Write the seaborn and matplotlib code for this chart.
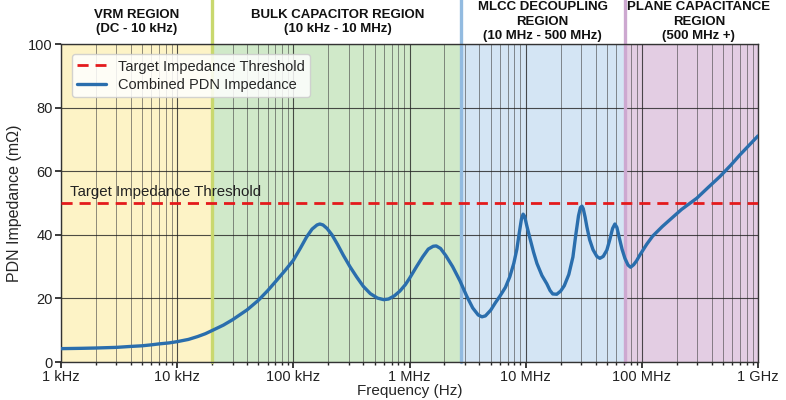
import numpy as np
import pandas as pd
import seaborn as sns
import matplotlib.pyplot as plt
from matplotlib.ticker import FixedLocator, LogLocator, NullFormatter

sns.set_theme(style="ticks")
plt.rcParams['font.family'] = ['Liberation Sans', 'DejaVu Sans']

# impedance curve (Hz, mOhm)
freq_hz = [1e3, 1.5e3, 2e3, 3e3, 4e3, 5e3, 6e3, 7e3, 8.5e3, 1e4, 1.25e4, 1.5e4,
           1.75e4, 2e4, 2.5e4, 3e4, 4e4, 5e4, 6e4, 7e4, 8.5e4,
           1e5, 1.15e5, 1.3e5, 1.45e5, 1.6e5, 1.69e5, 1.8e5, 1.95e5, 2.15e5,
           2.4e5, 2.7e5, 3.07e5, 3.5e5, 4e5, 4.6e5, 5.3e5, 6e5, 6.6e5, 7.4e5,
           8.26e5, 9.2e5, 1.0e6, 1.15e6, 1.3e6, 1.45e6, 1.6e6, 1.7e6, 1.85e6,
           2.05e6, 2.35e6, 2.72e6, 3.1e6, 3.5e6, 3.9e6, 4.2e6, 4.5e6, 5.0e6,
           5.5e6, 6.0e6, 6.7e6, 7.3e6, 7.9e6, 8.4e6, 8.8e6, 9.2e6, 9.5e6,
           9.8e6, 10.2e6, 10.9e6, 11.7e6, 12.5e6, 13.8e6, 15.2e6, 16.2e6,
           17.1e6, 18.5e6, 20e6, 21.5e6, 23.5e6, 25.5e6, 27e6, 28.5e6, 29.6e6,
           30.5e6, 31.3e6, 32.5e6, 33.6e6, 35.5e6, 38e6, 41e6, 43.5e6, 46.5e6,
           50e6, 53e6, 56e6, 58.6e6, 61e6, 64e6, 67.5e6, 71.5e6, 76e6, 80e6,
           85e6, 90e6, 96e6, 110e6, 124e6, 150e6, 174e6, 220e6, 297e6, 370e6,
           469e6, 580e6, 697e6, 840e6, 1e9]
z_mohm = [4.2, 4.3, 4.4, 4.6, 4.9, 5.1, 5.4, 5.7, 6.0, 6.4, 7.1, 8.0,
          8.9, 9.9, 11.6, 13.3, 16.4, 19.4, 22.4, 25.2, 28.8,
          32.0, 35.8, 39.3, 41.8, 43.1, 43.4, 43.1, 42.0, 40.0,
          37.0, 33.5, 30.0, 26.8, 23.8, 21.5, 20.1, 19.6, 19.8, 20.8,
          22.3, 24.3, 26.3, 30.0, 33.1, 35.5, 36.4, 36.5, 35.7,
          33.5, 30.0, 25.5, 20.8, 17.0, 14.8, 14.2, 14.5, 16.3,
          18.7, 20.7, 23.5, 26.8, 31.0, 35.5, 40.5, 45.0, 46.5,
          45.8, 43.0, 38.8, 34.5, 31.0, 27.2, 24.6, 22.5,
          21.4, 21.3, 22.3, 24.0, 27.5, 33.0, 40.0, 46.0, 48.6,
          49.0, 48.2, 45.5, 42.6, 38.5, 35.3, 33.2, 32.6, 33.2,
          35.2, 38.5, 42.0, 43.4, 42.3, 39.0, 35.5, 32.6, 30.5, 29.8,
          30.6, 31.8, 33.6, 37.0, 39.6, 42.6, 44.7, 48.0, 51.5, 54.8,
          58.3, 61.8, 65.1, 68.2, 71.1]

target_mohm = 50
region_edges = [1e3, 2e4, 2.77e6, 7.2e7, 1e9]
region_colors = ['#fdf3c6', '#d0e9c9', '#d4e5f4', '#e3cde3']
edge_colors = ['#c9d86e', '#93bbe0', '#cda8d0']
region_titles = ['VRM REGION\n(DC - 10 kHz)',
                 'BULK CAPACITOR REGION\n(10 kHz - 10 MHz)',
                 'MLCC DECOUPLING\nREGION\n(10 MHz - 500 MHz)',
                 'PLANE CAPACITANCE\nREGION\n(500 MHz +)']
title_x = [4.5e3, 2.4e5, 1.4e7, 3.1e8]
tick_pos = [1e3, 1e4, 1e5, 1e6, 1e7, 1e8, 1e9]
tick_labels = ['1 kHz', '10 kHz', '100 kHz', '1 MHz', '10 MHz', '100 MHz', '1 GHz']

df = pd.DataFrame({'Frequency': freq_hz, 'Impedance': z_mohm})

fig = plt.figure(figsize=(7.86, 4.0), dpi=100)
ax = fig.add_axes([0.0776, 0.095, 0.8868, 0.795])
ax.set_xscale('log')

for i in range(4):
    ax.axvspan(region_edges[i], region_edges[i + 1], color=region_colors[i], zorder=0, lw=0)
    ax.text(title_x[i], 1.07, region_titles[i], transform=ax.get_xaxis_transform(),
            ha='center', va='center', fontsize=9.5, fontweight='bold', color='#111111',
            linespacing=1.25)
for e, c in zip(region_edges[1:4], edge_colors):
    ax.axvline(e, ymin=0, ymax=1.14, color=c, lw=2.4, clip_on=False, zorder=1)

ax.axhline(target_mohm, color='#e41a1c', ls='--', lw=2, dashes=(4, 2.5),
           label='Target Impedance Threshold', zorder=3)
sns.lineplot(data=df, x='Frequency', y='Impedance', ax=ax, color='#2a6ead', lw=2.4,
             label='Combined PDN Impedance', zorder=4, sort=False)
ax.text(1.2e3, target_mohm + 3.5, 'Target Impedance Threshold', fontsize=10.8,
        va='center', ha='left', color='#222222')

ax.set_xlim(1e3, 1e9)
ax.set_ylim(0, 100)
ax.xaxis.set_major_locator(FixedLocator(tick_pos))
ax.set_xticklabels(tick_labels)
ax.xaxis.set_minor_locator(LogLocator(base=10, subs=np.arange(2, 10)))
ax.xaxis.set_minor_formatter(NullFormatter())
ax.set_yticks([0, 20, 40, 60, 80, 100])
ax.grid(True, which='major', axis='both', color='#222222', lw=0.8, alpha=0.8)
ax.grid(True, which='minor', axis='x', color='#444444', lw=0.7, alpha=0.6)
for line in ax.get_xgridlines() + ax.get_ygridlines():
    line.set_zorder(2)
ax.tick_params(axis='both', labelsize=10.5, colors='#222222', length=4, pad=2)
ax.tick_params(axis='x', which='minor', length=2)
for s in ax.spines.values():
    s.set_color('#333333')
    s.set_linewidth(1.0)
ax.set_xlabel('Frequency (Hz)', fontsize=11, labelpad=0)
ax.set_ylabel('PDN Impedance (m\u03a9)', fontsize=11.5, labelpad=4)

ax.legend(loc='upper left', fontsize=10.5, frameon=True, fancybox=True, framealpha=0.85,
          edgecolor='#cccccc', borderpad=0.35, labelspacing=0.3, handlelength=2.0,
          bbox_to_anchor=(0.005, 0.99))

fig.savefig('out.png', dpi=100)
